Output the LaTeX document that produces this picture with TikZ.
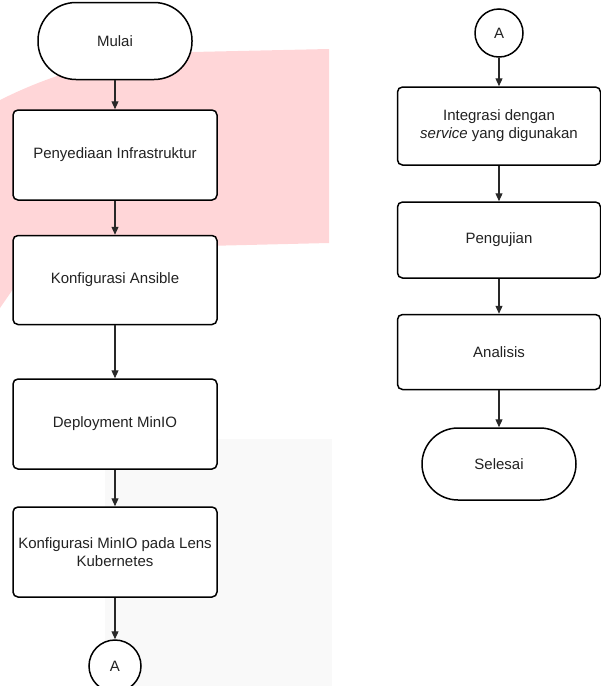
\documentclass[tikz,border=0pt]{standalone}
\usepackage{fontspec}
\setmainfont{Liberation Sans}
\usetikzlibrary{arrows.meta}
\definecolor{wmpink}{RGB}{255,214,216}
\definecolor{wmgrey}{RGB}{249,249,249}
\definecolor{txtgrey}{RGB}{34,34,34}
\definecolor{arrgrey}{RGB}{40,40,40}
\begin{document}
\begin{tikzpicture}[x=1pt,y=-1pt,font=\fontsize{15}{18}\selectfont]

      \useasboundingbox (0,0) rectangle (601,686);

      % background marks
      \fill[wmgrey] (105,439) rectangle (332,686);
      \fill[wmpink] (0,100) .. controls (60,70) and (120,55) .. (192,52)
        -- (329,49) -- (329,243) -- (40,250) -- (0,308) -- cycle;

      \begin{scope}[every node/.style={draw,fill=white,line width=1.5pt,align=center,text=txtgrey,inner sep=0pt}]
        \node[rounded corners=38pt,minimum width=154pt,minimum height=77pt] (1) at (115,41) {Mulai};
        \node[rounded corners=5pt,minimum width=204pt,minimum height=90pt] (2) at (115,155) {Penyediaan Infrastruktur};
        \node[rounded corners=5pt,minimum width=204pt,minimum height=89pt] (3) at (115,280) {Konfigurasi Ansible};
        \node[rounded corners=5pt,minimum width=204pt,minimum height=90pt] (4) at (115,424) {Deployment MinIO};
        \node[rounded corners=5pt,minimum width=204pt,minimum height=90pt] (5) at (115,552) {Konfigurasi MinIO pada Lens\\Kubernetes};
        \node[circle,minimum size=52pt] (6) at (115,666) {A};

        \node[circle,minimum size=48pt] (7) at (499,33) {A};
        \node[rounded corners=5pt,minimum width=203pt,minimum height=78pt] (8) at (499,126) {Integrasi dengan\\\textit{service} yang digunakan};
        \node[rounded corners=5pt,minimum width=203pt,minimum height=76pt] (9) at (499,240) {Pengujian};
        \node[rounded corners=5pt,minimum width=203pt,minimum height=75pt] (10) at (499,352) {Analisis};
        \node[rounded corners=36pt,minimum width=154pt,minimum height=72pt] (11) at (499,464) {Selesai};
      \end{scope}

      \begin{scope}[every edge/.style={draw,arrgrey,line width=1.2pt,-{Triangle[length=8pt,width=7pt]}}]
        \path (1) edge (2);
        \path (2) edge (3);
        \path (3) edge (4);
        \path (4) edge (5);
        \path (5) edge (6);

        \path (7) edge (8);
        \path (8) edge (9);
        \path (9) edge (10);
        \path (10) edge (11);
      \end{scope}

    \end{tikzpicture}
\end{document}
